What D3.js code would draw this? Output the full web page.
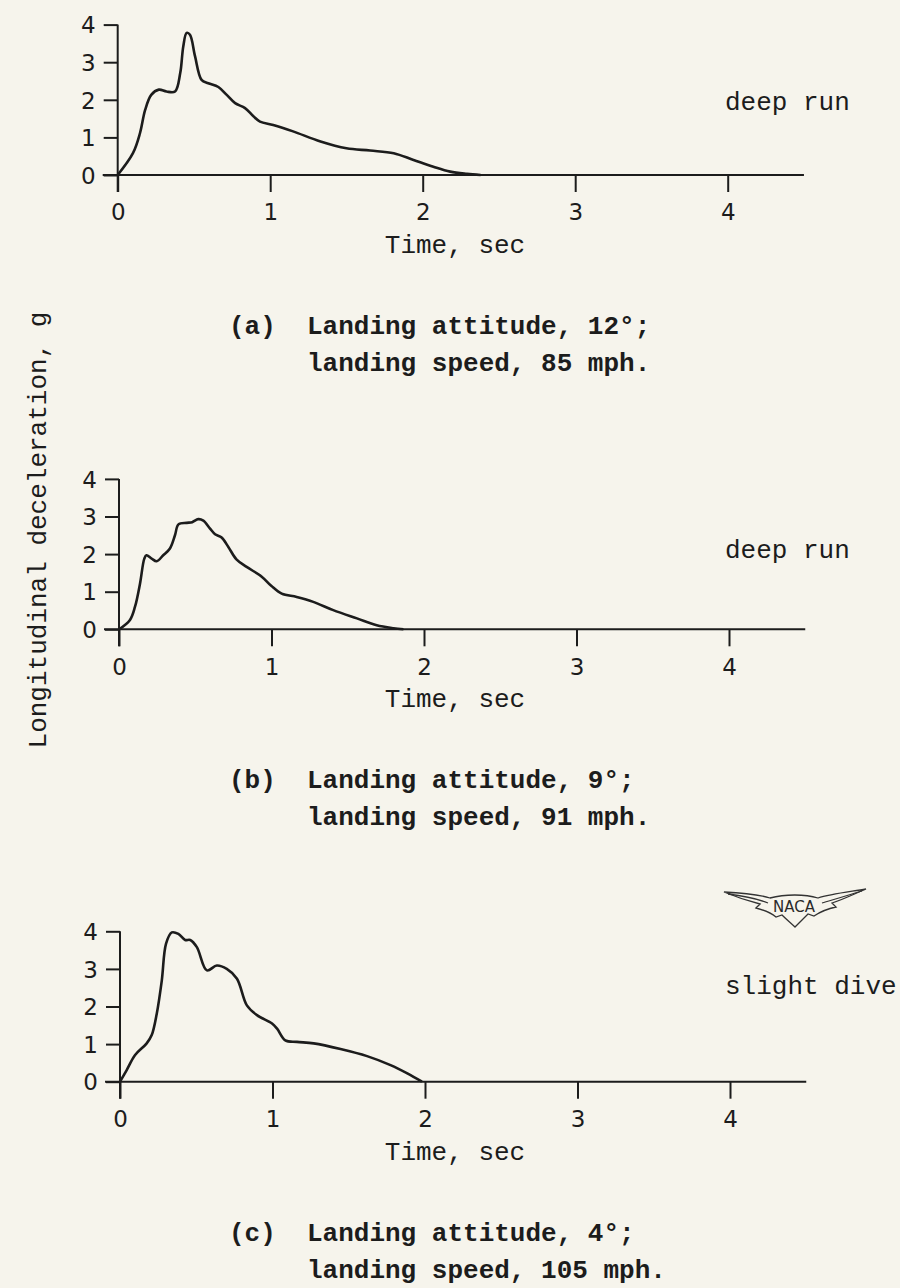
<!doctype html>
<html lang="en">
<head>
  <meta charset="utf-8">
  <title>Longitudinal deceleration</title>
  <script src="https://cdn.jsdelivr.net/npm/d3@7"></script>
  <style>
    body { margin: 0; background: #f6f4ec; }
    svg { display: block; }
    .mono { font-family: "Liberation Mono", "DejaVu Sans Mono", monospace; fill: #1c1c1c; }
    .tick text { font-family: "DejaVu Sans", sans-serif; font-size: 23px; fill: #1c1c1c; }
    .tick line, .axisline { stroke: #1c1c1c; stroke-width: 2; }
    .curve { fill: none; stroke: #1c1c1c; stroke-width: 2.6; stroke-linejoin: round; }
  </style>
</head>
<body>
<svg id="chart" width="900" height="1288"></svg>
<script>
// time (sec) and deceleration (g)
const timeA = [0, 0.10, 0.146, 0.18, 0.22, 0.27, 0.32, 0.376, 0.41, 0.43, 0.452, 0.474, 0.507, 0.55, 0.594, 0.66, 0.715, 0.77, 0.835, 0.89, 0.933, 1.02, 1.15, 1.33, 1.50, 1.655, 1.81, 1.94, 2.07, 2.18, 2.29, 2.38];
const decelA = [0, 0.58, 1.11, 1.73, 2.13, 2.27, 2.22, 2.22, 2.71, 3.42, 3.78, 3.73, 3.16, 2.53, 2.44, 2.34, 2.13, 1.91, 1.78, 1.56, 1.42, 1.33, 1.16, 0.89, 0.71, 0.65, 0.58, 0.40, 0.22, 0.09, 0.03, 0];

const timeB = [0, 0.072, 0.105, 0.138, 0.166, 0.18, 0.214, 0.247, 0.29, 0.334, 0.367, 0.39, 0.444, 0.48, 0.52, 0.553, 0.597, 0.63, 0.673, 0.717, 0.77, 0.837, 0.936, 1.0, 1.067, 1.165, 1.274, 1.405, 1.56, 1.69, 1.80, 1.865];
const decelB = [0, 0.25, 0.60, 1.22, 1.88, 1.97, 1.88, 1.81, 1.97, 2.15, 2.50, 2.79, 2.83, 2.85, 2.93, 2.89, 2.68, 2.53, 2.44, 2.19, 1.86, 1.66, 1.40, 1.15, 0.95, 0.86, 0.73, 0.51, 0.29, 0.11, 0.03, 0];

const timeC = [0, 0.044, 0.099, 0.175, 0.208, 0.241, 0.274, 0.302, 0.34, 0.383, 0.427, 0.46, 0.504, 0.57, 0.635, 0.70, 0.767, 0.832, 0.898, 0.997, 1.03, 1.084, 1.16, 1.27, 1.446, 1.62, 1.774, 1.884, 1.98];
const decelC = [0, 0.31, 0.71, 1.02, 1.24, 1.81, 2.69, 3.67, 3.97, 3.93, 3.77, 3.77, 3.58, 2.96, 3.09, 3.00, 2.74, 2.03, 1.77, 1.55, 1.41, 1.10, 1.06, 1.02, 0.87, 0.68, 0.44, 0.22, 0];

const xTicks = [0, 1, 2, 3, 4];
const yTicks = [0, 1, 2, 3, 4];

const panels = [
  { t: timeA, g: decelA, x0: 117.7, y0: 175, note: "deep run", noteY: 110,
    letter: "(a)", line1: "Landing attitude, 12°;", line2: "landing speed, 85 mph." },
  { t: timeB, g: decelB, x0: 119, y0: 629.3, note: "deep run", noteY: 558,
    letter: "(b)", line1: "Landing attitude, 9°;", line2: "landing speed, 91 mph." },
  { t: timeC, g: decelC, x0: 120, y0: 1081.7, note: "slight dive", noteY: 994,
    letter: "(c)", line1: "Landing attitude, 4°;", line2: "landing speed, 105 mph." }
];

const svg = d3.select("#chart");
const pxSec = 152.5, pxG = 37.6;

panels.forEach(p => {
  const x = d3.scaleLinear().domain([0, 4.5]).range([p.x0, p.x0 + 4.5 * pxSec]);
  const y = d3.scaleLinear().domain([0, 4]).range([p.y0, p.y0 - 4 * pxG]);
  const g = svg.append("g");

  // axes
  g.append("g")
    .attr("transform", `translate(0,${p.y0})`)
    .call(d3.axisBottom(x).tickValues(xTicks).tickSize(17).tickPadding(12).tickFormat(d3.format("d")))
    .call(s => s.select(".domain").remove());
  g.append("g")
    .attr("transform", `translate(${p.x0},0)`)
    .call(d3.axisLeft(y).tickValues(yTicks).tickSize(14).tickPadding(8).tickFormat(d3.format("d")))
    .call(s => s.select(".domain").remove())
    .selectAll(".tick text").attr("dy", "0.36em");
  g.append("line").attr("class", "axisline")
    .attr("x1", p.x0 - 15).attr("x2", x(4.5)).attr("y1", p.y0).attr("y2", p.y0);
  g.append("line").attr("class", "axisline")
    .attr("x1", p.x0).attr("x2", p.x0).attr("y1", y(4)).attr("y2", p.y0 + 17);

  // trace
  const pts = p.t.map((t, i) => [t, p.g[i]]);
  g.append("path").attr("class", "curve")
    .attr("d", d3.line().x(d => x(d[0])).y(d => y(d[1])).curve(d3.curveCatmullRom.alpha(0.5))(pts));

  // texts
  g.append("text").attr("class", "mono").attr("font-size", 26)
    .attr("x", 455).attr("y", p.y0 + 78).attr("text-anchor", "middle").text("Time, sec");
  g.append("text").attr("class", "mono").attr("font-size", 26)
    .attr("x", 725).attr("y", p.noteY).text(p.note);
  g.append("text").attr("class", "mono").attr("font-size", 26).attr("font-weight", "bold")
    .attr("x", 229).attr("y", p.y0 + 159).text(p.letter);
  g.append("text").attr("class", "mono").attr("font-size", 26).attr("font-weight", "bold")
    .attr("x", 307).attr("y", p.y0 + 159).text(p.line1);
  g.append("text").attr("class", "mono").attr("font-size", 26).attr("font-weight", "bold")
    .attr("x", 307).attr("y", p.y0 + 196).text(p.line2);
});

// shared y title
svg.append("text").attr("class", "mono").attr("font-size", 26)
  .attr("transform", "translate(46,530) rotate(-90)")
  .attr("text-anchor", "middle").text("Longitudinal deceleration, g");

// NACA wings emblem
const logo = svg.append("g").attr("fill", "none").attr("stroke", "#333").attr("stroke-width", 1.3);
logo.append("path").attr("d",
  "M724,892 C745,893 760,895 770,898 C785,894 805,894 818,898 C830,894 848,892 866,889 " +
  "C852,895 842,900 832,903 L836,907 C826,909 820,912 814,916 L808,914 C802,920 798,924 795,927 " +
  "C791,923 787,920 782,915 L776,917 C770,912 764,910 756,908 L760,904 C748,901 736,897 724,892 Z");
logo.append("path").attr("d", "M728,894 C745,896 758,899 768,903 M862,891 C846,896 832,900 822,903");
svg.append("text").attr("x", 794).attr("y", 912).attr("text-anchor", "middle")
  .attr("font-family", "DejaVu Sans, sans-serif").attr("font-size", 15).attr("fill", "#2a2a2a")
  .text("NACA");
</script>
</body>
</html>
